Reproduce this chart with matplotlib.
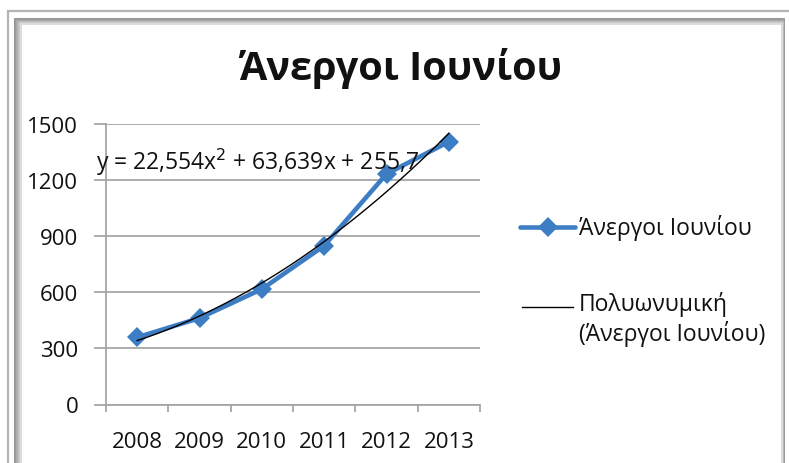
import numpy as np
import matplotlib
matplotlib.use("Agg")
import matplotlib.pyplot as plt
from matplotlib.lines import Line2D
from matplotlib.patches import Rectangle

plt.rcParams['font.family'] = ['Open Sans', 'DejaVu Sans']

# data: unemployed in June per year
years = ['2008', '2009', '2010', '2011', '2012', '2013']
unemployed = [359, 462, 617, 849, 1233, 1405]
# polynomial trend (order 2), coefficients as printed on the chart
coef = [22.554, 63.639, 255.7]
eq_label = 'y = 22,554x$^2$ + 63,639x + 255,7'
series_name = 'Άνεργοι Ιουνίου'
trend_name = 'Πολυωνυμική\n(Άνεργοι Ιουνίου)'
yticks = [0, 300, 600, 900, 1200, 1500]

W, H = 789, 464
BLUE = '#3D7DC4'
GRID = '#a6a6a6'
TXT = '#111111'


def px(x, y):
    # pixel position (from top-left) -> figure fraction
    return x / W, 1 - y / H


fig = plt.figure(figsize=(W / 100, H / 100), dpi=100)

# bevelled chart frame
fig.add_artist(Rectangle(px(8, 500), (800 - 8) / W, (500 - 12) / H, transform=fig.transFigure,
                         fill=False, edgecolor='#b4b4b4', linewidth=1.6))
shades = ['#8c8c8c', '#9c9c9c', '#ababab', '#bcbcbc', '#cccccc', '#dcdcdc']
for i, c in enumerate(shades):
    x0 = 15 + i * 1.2
    y0 = 20 + i * 1.0
    fig.add_artist(Rectangle(px(x0, 500), (784 - i * 0.5 - x0) / W, (500 - y0) / H,
                             transform=fig.transFigure, fill=False, edgecolor=c, linewidth=1.3))

ax = fig.add_axes([106 / W, 1 - 405.5 / H, (480 - 106) / W, (405.5 - 125) / H])

x = np.arange(1, len(years) + 1)
xs = np.linspace(1, len(years), 200)
trend = np.polyval(coef, xs)

ax.plot(x, unemployed, color=BLUE, linewidth=3.3, marker='D', markersize=10.5,
        markeredgewidth=0, solid_joinstyle='round', zorder=3)
ax.plot(xs, trend, color='black', linewidth=1.0, zorder=4)

ax.set_xlim(0.5, len(years) + 0.5)
ax.set_ylim(0, 1500)
ax.set_yticks(yticks)
ax.set_xticks(np.arange(0.5, len(years) + 1, 1))
ax.set_xticklabels([])
ax.set_xticks(x, minor=True)
ax.set_xticklabels(years, minor=True)
ax.tick_params(axis='x', which='major', length=5, width=1.3, color=GRID, direction='out')
ax.tick_params(axis='x', which='minor', length=0, pad=19, labelsize=16, labelcolor=TXT)
ax.tick_params(axis='y', length=9, width=1.3, color=GRID, pad=11, labelsize=16, labelcolor=TXT)
ax.yaxis.grid(True, color=GRID, linewidth=1.3)
ax.set_axisbelow(True)
for s in ['top', 'right']:
    ax.spines[s].set_visible(False)
for s in ['left', 'bottom']:
    ax.spines[s].set_color(GRID)
    ax.spines[s].set_linewidth(1.3)

# trendline equation
fig.text(*px(96, 162), eq_label, fontsize=16.5, va='center', ha='left', color=TXT)

fig.text(*px(401, 80), series_name, fontsize=28.5, fontweight='bold', ha='center', va='baseline',
         color=TXT)

# legend
fig.add_artist(Line2D([520 / W, 575 / W], [1 - 228 / H] * 2, transform=fig.transFigure,
                      color=BLUE, linewidth=3.3, solid_capstyle='round'))
fig.add_artist(Line2D([547.5 / W], [1 - 228 / H], transform=fig.transFigure, color=BLUE,
                      marker='D', markersize=10.5, markeredgewidth=0))
fig.text(*px(579, 228), series_name, fontsize=16.5, va='center', ha='left', color=TXT)
fig.add_artist(Line2D([522 / W, 573 / W], [1 - 308 / H] * 2, transform=fig.transFigure,
                      color='black', linewidth=1.0))
fig.text(*px(579, 292), trend_name, fontsize=16.5, va='top', ha='left', color=TXT,
         linespacing=1.2)

fig.savefig('out.png', dpi=100)
